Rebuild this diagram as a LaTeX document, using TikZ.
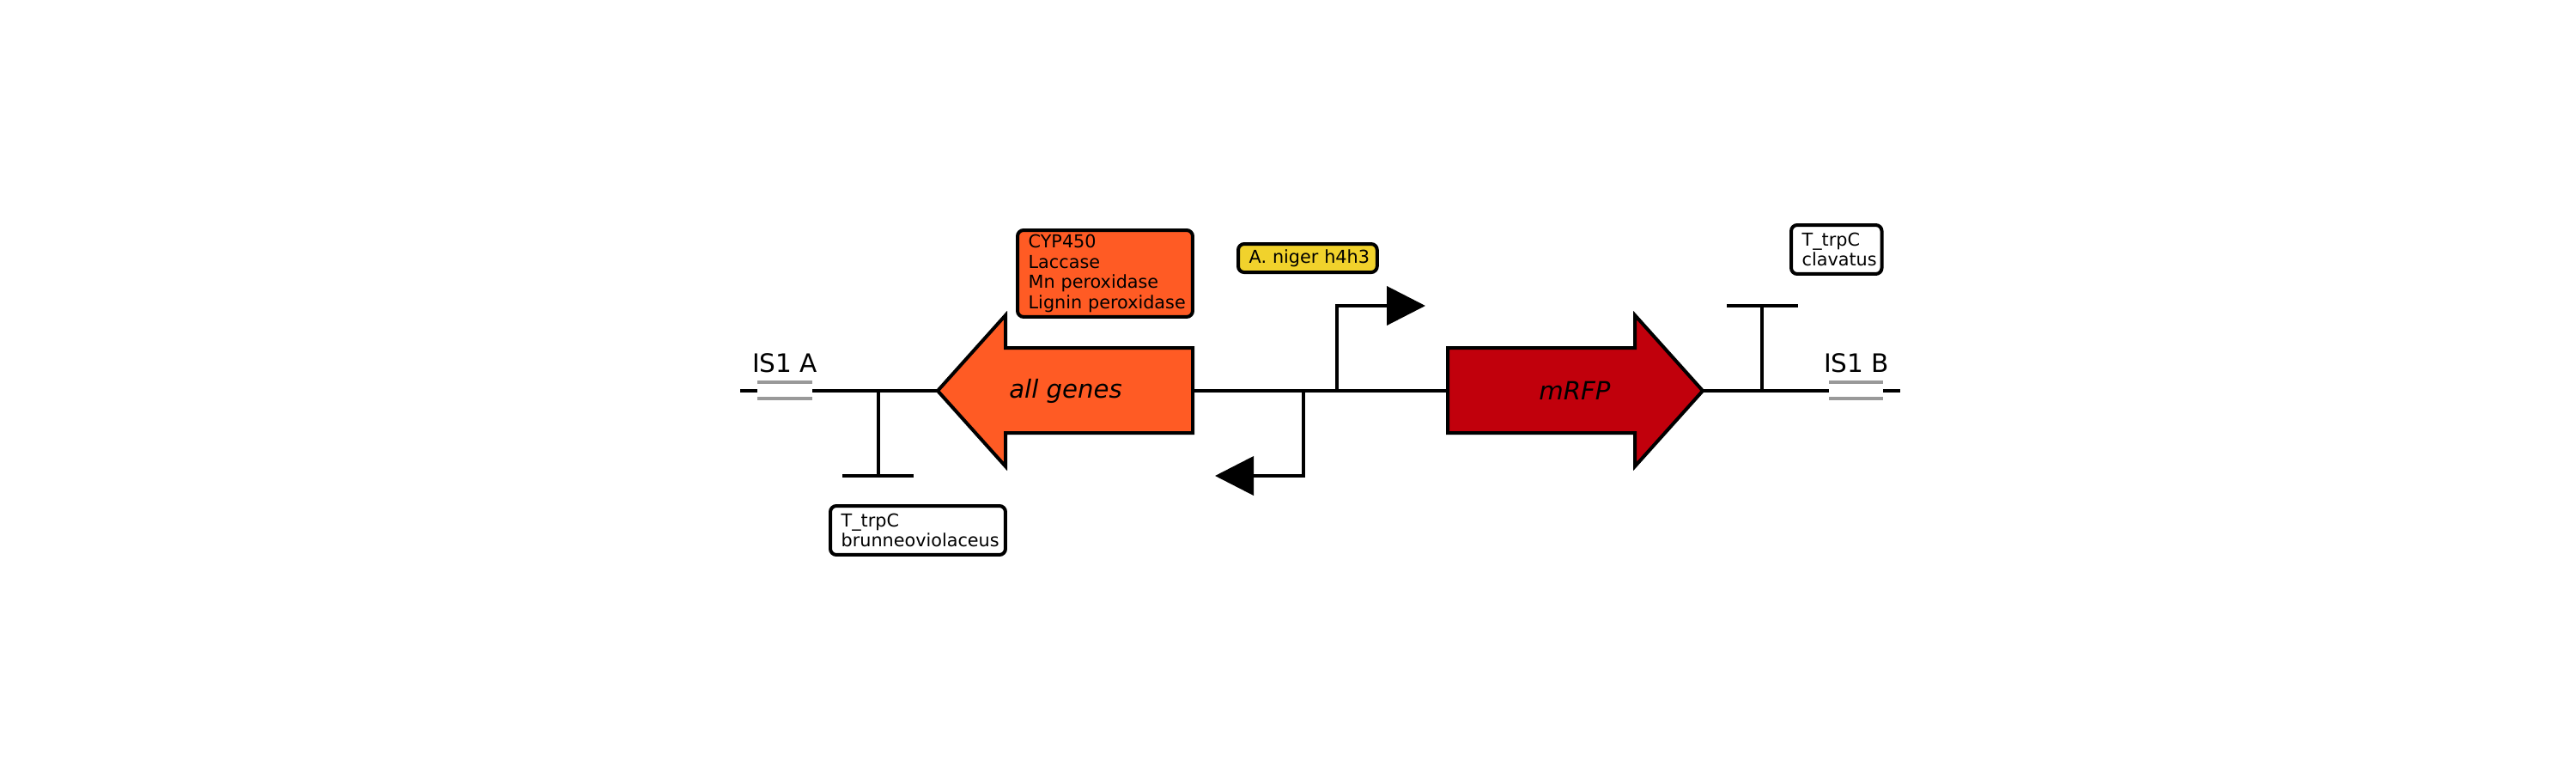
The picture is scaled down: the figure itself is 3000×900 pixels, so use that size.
\documentclass[tikz,border=0pt]{standalone}
\usepackage{fontspec}
\setmainfont{DejaVu Sans}
\usepackage{xcolor}
\usetikzlibrary{arrows.meta,positioning}
\definecolor{cdsorange}{HTML}{FF5B24}
\definecolor{cdsred}{HTML}{C1000C}
\definecolor{promyellow}{HTML}{F1D22C}
\definecolor{isgray}{HTML}{999999}
\tikzset{
  strand/.style={line width=1.14pt,black},
  genearrow/.style={line width=1.14pt,draw=black,miter limit=10},
  genelabel/.style={font=\fontsize{8.3}{9}\selectfont\itshape,inner sep=0pt},
  islabel/.style={font=\fontsize{8.4}{9}\selectfont,inner sep=0pt,anchor=base},
  isbar/.style={line width=1.14pt,isgray},
  tagbox/.style={draw=black,line width=1.14pt,rounded corners=2pt,anchor=north west,
    inner xsep=0pt,inner ysep=0pt,align=left,font=\fontsize{5.9}{6.75}\selectfont},
  promarrow/.style={strand,-{Triangle[length=12.8pt,width=12.8pt]}}
}
\begin{document}
\begin{tikzpicture}[x=0.01cm,y=-0.01cm]
  \useasboundingbox (0,0) rectangle (3000,900);
  % backbone
  \coordinate (endA) at (862,455);
  \coordinate (gapAl) at (882,455);
  \coordinate (gapAr) at (946,455);
  \coordinate (allTip) at (1092,455);
  \coordinate (allTail) at (1389,455);
  \coordinate (rfpTail) at (1686,455);
  \coordinate (rfpTip) at (1983,455);
  \coordinate (gapBl) at (2130,455);
  \coordinate (gapBr) at (2193,455);
  \coordinate (endB) at (2213,455);
  \draw[strand] (endA) -- (gapAl);
  \draw[strand] (gapAr) -- (allTip);
  \draw[strand] (allTail) -- (rfpTail);
  \draw[strand] (rfpTip) -- (gapBl);
  \draw[strand] (gapBr) -- (endB);
  % insertion sequences
  \draw[isbar] (gapAl |- 0,445) -- (gapAr |- 0,445);
  \draw[isbar] (gapAl |- 0,464) -- (gapAr |- 0,464);
  \draw[isbar] (gapBl |- 0,445) -- (gapBr |- 0,445);
  \draw[isbar] (gapBl |- 0,464) -- (gapBr |- 0,464);
  \node[islabel] (isA) at (914,433) {IS1 A};
  \node[islabel] (isB) at (2162,433) {IS1 B};
  % genes
  \draw[genearrow,fill=cdsorange] (allTip) -- (1171,367) -- (1171,405) -- (1389,405) -- (1389,504) -- (1171,504) -- (1171,543) -- cycle;
  \draw[genearrow,fill=cdsred] (rfpTip) -- (1904,367) -- (1904,405) -- (1686,405) -- (1686,504) -- (1904,504) -- (1904,543) -- cycle;
  \node[genelabel] (allGenes) at (1241,455) {all genes};
  \node[genelabel] (mRFP) at (1834,455) {mRFP};
  % terminators
  \coordinate (termAtop) at (1023,455);
  \coordinate (termAfoot) at (1023,554);
  \coordinate (termAl) at (981,554);
  \coordinate (termAr) at (1064,554);
  \draw[strand] (termAtop) -- (termAfoot);
  \draw[strand] (termAl) -- (termAr);
  \coordinate (termBfoot) at (2052,455);
  \coordinate (termBtop) at (2052,356);
  \coordinate (termBl) at (2011,356);
  \coordinate (termBr) at (2094,356);
  \draw[strand] (termBfoot) -- (termBtop);
  \draw[strand] (termBl) -- (termBr);
  % promoters
  \coordinate (promF) at (1557,455);
  \coordinate (promFtip) at (1660,356);
  \draw[promarrow] (promF) |- (promFtip);
  \coordinate (promR) at (1518,455);
  \coordinate (promRtip) at (1415,554);
  \draw[promarrow] (promR) |- (promRtip);
  % labels
  \node[tagbox,fill=cdsorange,minimum height=28.7pt,text width=58pt] (enzymes) at (1183,266)
    {\hspace*{3.6pt}CYP450\\\hspace*{3.6pt}Laccase\\\hspace*{3.6pt}Mn peroxidase\\\hspace*{3.6pt}Lignin peroxidase};
  \node[tagbox,fill=promyellow,minimum height=9.4pt,text width=46pt] (h4h3) at (1440,282)
    {\hspace*{3.6pt}A. niger h4h3};
  \node[tagbox,fill=white,minimum height=16.2pt,text width=30pt] (termBbox) at (2084,260)
    {\hspace*{3.6pt}T\_trpC\\\hspace*{3.6pt}clavatus};
  \node[tagbox,fill=white,minimum height=16.2pt,text width=58pt] (termAbox) at (965,587)
    {\hspace*{3.6pt}T\_trpC\\\hspace*{3.6pt}brunneoviolaceus};
\end{tikzpicture}
\end{document}
